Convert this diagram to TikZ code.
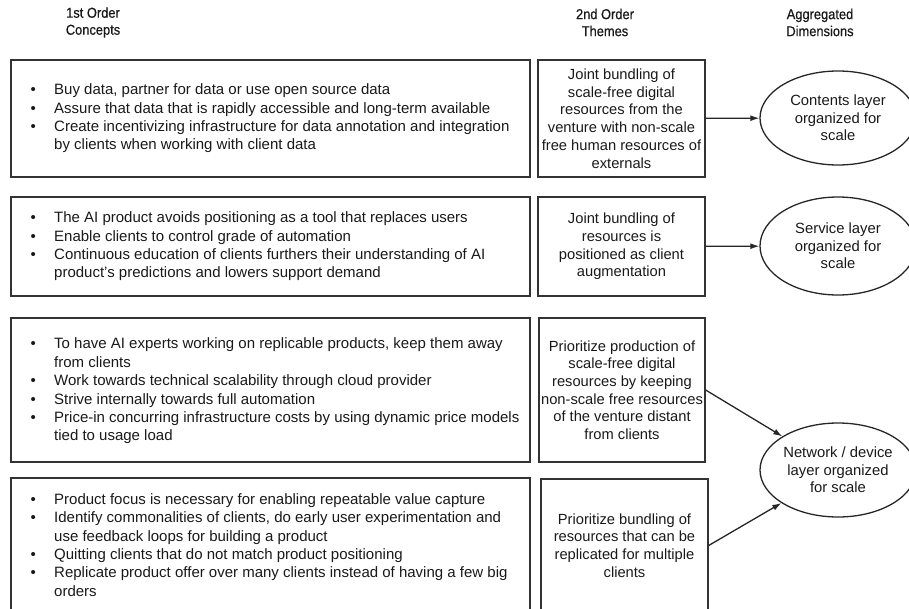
\documentclass[tikz,border=0pt]{standalone}
\usepackage{fontspec}
\setmainfont{Liberation Sans}
\newfontfamily\headfont[FakeBold=0.6, FakeStretch=0.9]{Liberation Sans}
\usetikzlibrary{shapes.geometric,arrows.meta}

% bullet line and its continuation
\newcommand\itm[1]{\makebox[23.5pt][l]{\textbullet}#1}
\newcommand\cnt[1]{\hspace*{23.5pt}#1}

\begin{document}
\begin{tikzpicture}[x=1pt, y=-1pt,
  every node/.style={font=\fontsize{15}{18.4}\selectfont, text=black!90},
  concept/.style={draw=black!80, line width=1.3pt, minimum width=519pt, inner sep=0pt},
  bullets/.style={anchor=west, align=left, inner sep=0pt},
  theme/.style={draw=black!80, line width=1.3pt, minimum width=167pt, align=center,
    inner sep=0pt, font=\fontsize{14.7}{17.7}\selectfont},
  dim/.style={ellipse, draw=black!85, line width=1.3pt, minimum width=156pt, align=center,
    inner sep=0pt, font=\fontsize{14.8}{17.6}\selectfont},
  head/.style={align=center, font=\headfont\fontsize{14.3}{17}\selectfont},
  link/.style={-{Latex[length=9pt,width=6pt]}, line width=1.3pt, black!85}]
  \useasboundingbox (0,0) rectangle (909,608);

  % Column heads
  \node[head] (h1) at (93,22.5) {1st Order\\Concepts};
  \node[head] (h2) at (605,22.5) {2nd Order\\Themes};
  \node[head] (h3) at (820,22.5) {Aggregated\\Dimensions};

  % 1st order concepts
  \foreach \n/\y/\h in {1/118.5/117, 2/246.5/99, 3/390/144, 4/545/134}
    \node[concept, minimum height=\h] (c\n) at (270.5,\y) {};
  \node[bullets] (b1) at (30.5,118.5) {\itm{Buy data, partner for data or use open source data}\\
    \itm{Assure that data that is rapidly accessible and long-term available}\\
    \itm{Create incentivizing infrastructure for data annotation and integration}\\
    \cnt{by clients when working with client data}};
  \node[bullets] (b2) at (30.5,246.5) {\itm{The AI product avoids positioning as a tool that replaces users}\\
    \itm{Enable clients to control grade of automation}\\
    \itm{Continuous education of clients furthers their understanding of AI}\\
    \cnt{product’s predictions and lowers support demand}};
  \node[bullets] (b3) at (30.5,391) {\itm{To have AI experts working on replicable products, keep them away}\\
    \cnt{from clients}\\
    \itm{Work towards technical scalability through cloud provider}\\
    \itm{Strive internally towards full automation}\\
    \itm{Price-in concurring infrastructure costs by using dynamic price models}\\
    \cnt{tied to usage load}};
  \node[bullets] (b4) at (30.5,545) {\itm{Product focus is necessary for enabling repeatable value capture}\\
    \itm{Identify commonalities of clients, do early user experimentation and}\\
    \cnt{use feedback loops for building a product}\\
    \itm{Quitting clients that do not match product positioning}\\
    \itm{Replicate product offer over many clients instead of having a few big}\\
    \cnt{orders}};

  % 2nd order themes
  \node[theme, minimum height=117] (t1) at (621.5,118.5) {Joint bundling of\\scale-free digital\\resources from the\\venture with non-scale\\free human resources of\\externals};
  \node[theme, minimum height=99] (t2) at (621.5,246.5) {Joint bundling of\\resources is\\positioned as client\\augmentation};
  \node[theme, minimum height=144, minimum width=166] (t3) at (622,390) {Prioritize production of\\scale-free digital\\resources by keeping\\non-scale free resources\\of the venture distant\\from clients};
  \node[theme, minimum height=133] (t4) at (624.5,545.5) {Prioritize bundling of\\resources that can be\\replicated for multiple\\clients};

  % Aggregated dimensions
  \node[dim, minimum height=94] (d1) at (838,118) {Contents layer\\organized for\\scale};
  \node[dim, minimum height=98] (d2) at (838,246) {Service layer\\organized for\\scale};
  \node[dim, minimum height=94] (d3) at (838,470) {Network / device\\layer organized\\for scale};

  \draw[link] (t1) -- (d1);
  \draw[link] (t2) -- (d2);
  \draw[link] (t3.east) -- (d3);
  \draw[link] (t4.east) -- (d3);
\end{tikzpicture}
\end{document}
